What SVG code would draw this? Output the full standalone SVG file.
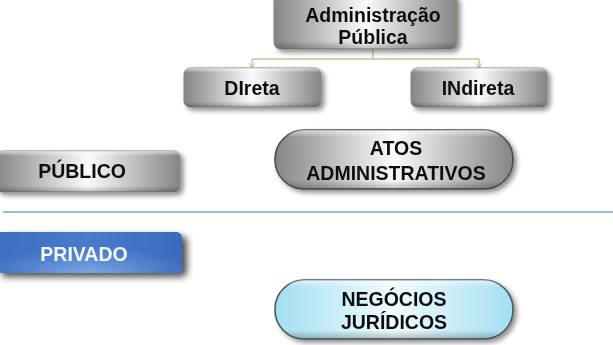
<svg xmlns="http://www.w3.org/2000/svg" width="613" height="345" viewBox="0 0 613 345">
<style>
  .t { font-family: "Liberation Sans", Arial, sans-serif; font-weight: bold; font-size: 19.5px; fill: #111; text-anchor: middle; }
  .w { fill: #f4f8ff; }
  .gray { fill: url(#gH); stroke: #8d876c; stroke-width: 1; }
  .shade { fill: url(#gV); }
  .pill { fill: url(#gH); stroke: #4d4d4d; stroke-width: 1.6; }
  .cyan { fill: url(#gC); stroke: #4a5a60; stroke-width: 1.6; }
  .blue { fill: url(#gB); }
  .conn { fill: none; stroke: #cbbf90; stroke-width: 1.3; }
</style>
<defs>
  <linearGradient id="gH" x1="0" y1="0" x2="1" y2="0">
    <stop offset="0" stop-color="#858585"/>
    <stop offset="0.5" stop-color="#fbfbfb"/>
    <stop offset="1" stop-color="#858585"/>
  </linearGradient>
  <linearGradient id="gV" x1="0" y1="0" x2="0" y2="1">
    <stop offset="0" stop-color="#ffffff" stop-opacity="0.6"/>
    <stop offset="0.12" stop-color="#ffffff" stop-opacity="0"/>
    <stop offset="0.85" stop-color="#000000" stop-opacity="0"/>
    <stop offset="1" stop-color="#000000" stop-opacity="0.25"/>
  </linearGradient>
  <linearGradient id="gC" x1="0" y1="0" x2="1" y2="0">
    <stop offset="0" stop-color="#a4def1"/>
    <stop offset="0.5" stop-color="#f0fcff"/>
    <stop offset="1" stop-color="#a4def1"/>
  </linearGradient>
  <linearGradient id="gBh" x1="0" y1="0" x2="1" y2="0">
    <stop offset="0" stop-color="#3a6dc2"/>
    <stop offset="0.5" stop-color="#5f8fd8"/>
    <stop offset="1" stop-color="#3465b8"/>
  </linearGradient>
  <radialGradient id="gB" cx="0.5" cy="1" r="0.6" fx="0.5" fy="1">
    <stop offset="0" stop-color="#8fb2ea"/>
    <stop offset="1" stop-color="#3c6ec2"/>
  </radialGradient>
  <filter id="sh" x="-10%" y="-20%" width="130%" height="160%">
    <feGaussianBlur in="SourceAlpha" stdDeviation="2.5"/>
    <feOffset dx="3" dy="3" result="b"/>
    <feComponentTransfer><feFuncA type="linear" slope="0.45"/></feComponentTransfer>
    <feMerge><feMergeNode/><feMergeNode in="SourceGraphic"/></feMerge>
  </filter>
  <filter id="shB" x="-10%" y="-20%" width="130%" height="170%">
    <feGaussianBlur in="SourceAlpha" stdDeviation="3.5"/>
    <feOffset dx="5" dy="4" result="b"/>
    <feComponentTransfer><feFuncA type="linear" slope="0.7"/></feComponentTransfer>
    <feMerge><feMergeNode/><feMergeNode in="SourceGraphic"/></feMerge>
  </filter>
  <marker id="ah" viewBox="0 0 10 10" refX="9" refY="5" markerWidth="7" markerHeight="8" markerUnits="userSpaceOnUse" orient="auto">
    <path d="M2,1 L9,5 L2,9" fill="none" stroke="#cbbf90" stroke-width="1.4"/>
  </marker>
</defs>

<g id="connectors">
  <path class="conn" d="M373,49 V59"/>
  <path class="conn" d="M252,59 H479"/>
  <path class="conn" d="M252,59 V68" marker-end="url(#ah)"/>
  <path class="conn" d="M479,59 V68" marker-end="url(#ah)"/>
  <line x1="3" y1="212" x2="613" y2="212" stroke="#6fa2dd" stroke-width="1.5"/>
</g>

<g id="admin" filter="url(#sh)">
  <rect class="gray" x="274" y="-6" width="183" height="55" rx="7"/>
  <rect class="shade" x="274" y="-6" width="183" height="55" rx="7"/>
  <text class="t" x="373" y="22">Administração</text>
  <text class="t" x="373" y="44">Pública</text>
</g>

<g id="direta" filter="url(#sh)">
  <rect class="gray" x="184" y="68" width="137" height="39" rx="6"/>
  <rect class="shade" x="184" y="68" width="137" height="39" rx="6"/>
  <text class="t" x="252" y="95">DIreta</text>
</g>

<g id="indireta" filter="url(#sh)">
  <rect class="gray" x="411" y="68" width="136" height="39" rx="6"/>
  <rect class="shade" x="411" y="68" width="136" height="39" rx="6"/>
  <text class="t" x="478" y="95">INdireta</text>
</g>

<g id="publico" filter="url(#sh)">
  <rect class="gray" x="-4" y="151" width="184" height="41" rx="6"/>
  <rect class="shade" x="-4" y="151" width="184" height="41" rx="6"/>
  <text class="t" x="82" y="178">PÚBLICO</text>
</g>

<g id="atos" filter="url(#sh)">
  <rect class="pill" x="275" y="130" width="238" height="59" rx="29"/>
  <rect class="shade" x="275" y="130" width="238" height="59" rx="29"/>
  <text class="t" x="396" y="155">ATOS</text>
  <text class="t" x="396" y="180">ADMINISTRATIVOS</text>
</g>

<g id="privado" filter="url(#shB)">
  <rect fill="url(#gBh)" x="-4" y="232" width="186" height="41" rx="6"/>
  <rect class="blue" x="-4" y="232" width="186" height="41" rx="6" opacity="0.6"/>
  <text class="t w" x="84" y="261">PRIVADO</text>
</g>

<g id="negocios" filter="url(#sh)">
  <rect class="cyan" x="275" y="280" width="238" height="59" rx="29"/>
  <rect class="shade" x="275" y="280" width="238" height="59" rx="29"/>
  <text class="t" x="394" y="306">NEGÓCIOS</text>
  <text class="t" x="394" y="329">JURÍDICOS</text>
</g>
</svg>
